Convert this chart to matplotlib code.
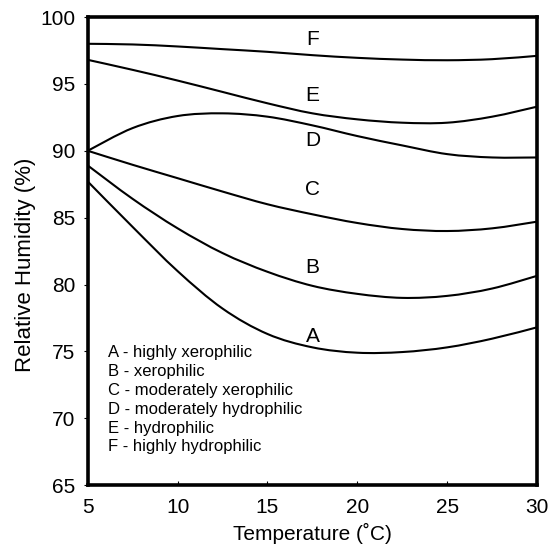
import matplotlib
matplotlib.use("Agg")
import matplotlib.pyplot as plt
from matplotlib.path import Path
from matplotlib.patches import PathPatch

plt.rcParams["font.family"] = ["Liberation Sans", "DejaVu Sans"]

# temperature (C) at which the curves were read
temp = [5, 7.5, 10, 12.5, 15, 17.5, 20, 22.5, 25, 27.5, 30]

# relative humidity (%) for each group
rh_a = [87.7, 84.3, 81.0, 78.2, 76.3, 75.3, 74.9, 74.95, 75.3, 75.95, 76.8]
rh_b = [88.9, 86.4, 84.2, 82.35, 80.95, 79.9, 79.3, 79.0, 79.15, 79.7, 80.65]
rh_c = [90.0, 88.95, 87.95, 86.95, 86.0, 85.25, 84.6, 84.15, 84.0, 84.2, 84.7]
rh_d = [90.0, 91.7, 92.6, 92.8, 92.55, 91.9, 91.1, 90.4, 89.75, 89.5, 89.5]
rh_e = [96.8, 96.05, 95.25, 94.4, 93.55, 92.8, 92.35, 92.1, 92.1, 92.55, 93.3]
rh_f = [98.0, 97.95, 97.8, 97.6, 97.4, 97.15, 96.95, 96.82, 96.77, 96.85, 97.1]

curve_names = ["A", "B", "C", "D", "E", "F"]
label_y = [76.1, 81.3, 87.1, 90.8, 94.1, 98.3]
legend_lines = [
    "A - highly xerophilic",
    "B - xerophilic",
    "C - moderately xerophilic",
    "D - moderately hydrophilic",
    "E - hydrophilic",
    "F - highly hydrophilic",
]


def smooth_path(xs, ys):
    # Catmull-Rom through the read points, drawn as cubic Bezier segments
    pts = list(zip(xs, ys))
    verts = [pts[0]]
    codes = [Path.MOVETO]
    n = len(pts)
    for i in range(n - 1):
        p0 = pts[i - 1] if i > 0 else pts[i]
        p1 = pts[i]
        p2 = pts[i + 1]
        p3 = pts[i + 2] if i + 2 < n else pts[i + 1]
        c1 = (p1[0] + (p2[0] - p0[0]) / 6, p1[1] + (p2[1] - p0[1]) / 6)
        c2 = (p2[0] - (p3[0] - p1[0]) / 6, p2[1] - (p3[1] - p1[1]) / 6)
        verts += [c1, c2, p2]
        codes += [Path.CURVE4] * 3
    return Path(verts, codes)


fig = plt.figure(figsize=(5.52, 5.50), dpi=100)
ax = fig.add_axes([0.159, 0.118, 0.814, 0.851])

for rh in [rh_a, rh_b, rh_c, rh_d, rh_e, rh_f]:
    ax.add_patch(PathPatch(smooth_path(temp, rh), fill=False,
                           edgecolor="black", lw=1.5, clip_on=True))

for name, y in zip(curve_names, label_y):
    ax.text(17.5, y, name, fontsize=15, ha="center", va="center")

ax.text(6.1, 75.5, "\n".join(legend_lines), fontsize=12, ha="left", va="top",
        linespacing=1.33)

ax.set_xlim(5, 30)
ax.set_ylim(65, 100)
ax.set_xticks([5, 10, 15, 20, 25, 30])
ax.set_yticks([65, 70, 75, 80, 85, 90, 95, 100])
ax.tick_params(axis="x", direction="in", length=3, labelsize=15, pad=9)
ax.tick_params(axis="y", direction="out", length=3, labelsize=15, pad=6)
for s in ax.spines.values():
    s.set_linewidth(2.6)

ax.set_xlabel("Temperature (\u02daC)", fontsize=15)
ax.set_ylabel("Relative Humidity (%)", fontsize=16)
ax.xaxis.set_label_coords(0.5, -0.08)
ax.yaxis.set_label_coords(-0.115, 0.47)

fig.savefig("out.png", dpi=100)
